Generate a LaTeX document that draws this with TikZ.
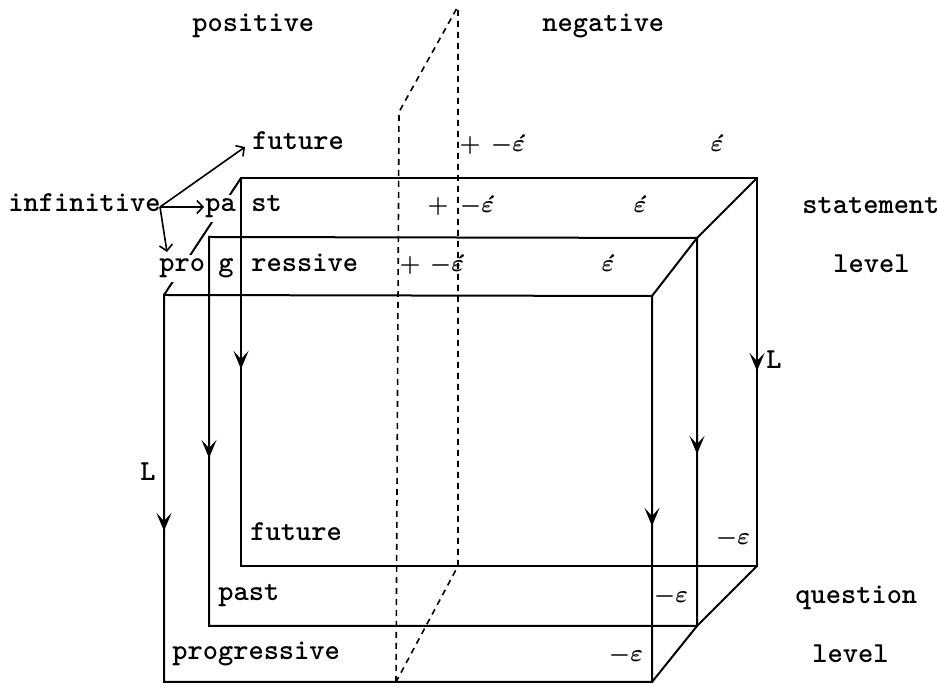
\documentclass[tikz,border=0pt]{standalone}
\usepackage{bm}
\usetikzlibrary{arrows.meta}
\begin{document}
\begin{tikzpicture}[x=0.5pt,y=-0.5pt,
  edge/.style={line width=1pt},
  plane/.style={line width=0.8pt, dash pattern=on 3pt off 2.5pt},
  lbl/.style={inner sep=0pt, anchor=base west, font=\fontsize{14.5}{17}\selectfont\ttfamily\bfseries},
  cover/.style={lbl, fill=white, inner ysep=2pt},
  sym/.style={inner sep=0pt, anchor=base, font=\fontsize{12}{14}\selectfont},
  midtip/.style={line width=1.3pt, -{Stealth[length=9pt,width=7.5pt,inset=4pt]}},
  opentip/.style={line width=0.8pt, -{Straight Barb[length=3pt,width=6.5pt]}},
]
\useasboundingbox (0,0) rectangle (938,688);

% corners of the three slabs
\coordinate (BTL) at (241,178); \coordinate (BTR) at (757,178);
\coordinate (BBR) at (757,566); \coordinate (BBL) at (241,566);
\coordinate (MTL) at (209,237); \coordinate (MTR) at (697,238);
\coordinate (MBR) at (697,626); \coordinate (MBL) at (209,626);
\coordinate (FTL) at (164,295); \coordinate (FTR) at (652,296);
\coordinate (FBR) at (652,682); \coordinate (FBL) at (164,682);

% dashed dividing plane
\coordinate (PBT) at (458,10); \coordinate (PBB) at (458,566);
\coordinate (PFT) at (399,112); \coordinate (PFB) at (396,682);
\coordinate (PTop) at (457,8);
\draw[plane] (PFB) -- (PFT) -- (PTop);
\draw[plane] (PBT) -- (PBB) -- (PFB);

% the three rectangles
\draw[edge] (BTL) -- (BTR) -- (BBR) -- (BBL) -- cycle;
\draw[edge] (MTL) -- (MTR) -- (MBR) -- (MBL) -- cycle;
\draw[edge] (FTL) -- (FTR) -- (FBR) -- (FBL) -- cycle;
% diagonals
\draw[edge] (FTL) -- (BTL);
\draw[edge] (FTR) -- (MTR) -- (BTR);
\draw[edge] (FBR) -- (MBR) -- (BBR);

% arrowheads on the vertical edges
\draw[midtip] (241,345) -- (241,369);
\draw[midtip] (209,434) -- (209,458);
\draw[midtip] (164,507) -- (164,531);
\draw[midtip] (757,347) -- (757,371);
\draw[midtip] (697,430) -- (697,454);
\draw[midtip] (652,502) -- (652,526);

% labels
\node[lbl] (pos) at (192,32) {positive};
\node[lbl] (neg) at (542,32) {negative};
\node[lbl] (fut) at (252,150) {future};
\node[lbl] (inf) at (8,212) {infinitive};
\node[cover] (pa) at (205,212) {pa};
\node[lbl] (st) at (251,212) {st};
\node[cover] (pro) at (159,272) {pro};
\node[lbl] (g) at (218,272) {g};
\node[lbl] (ress) at (251,272) {ressive};
\node[lbl] (stm) at (802,214) {statement};
\node[lbl] (lev1) at (833,273) {level};
\node[lbl] (futb) at (250,541) {future};
\node[lbl] (pastb) at (218,601) {past};
\node[lbl] (progb) at (172,660) {progressive};
\node[lbl] (que) at (795,604) {question};
\node[lbl] (lev2) at (812,663) {level};
\node[lbl, anchor=center] (L1) at (148,472) {L};
\node[lbl, anchor=center] (L2) at (774,360) {L};

% epsilon labels
\node[sym] (p1) at (470,152) {$\bm{+}$};
\node[sym] (m1) at (508,152) {$\bm{-\acute{\varepsilon}}$};
\node[sym] (e1) at (717,152) {$\bm{\acute{\varepsilon}}$};
\node[sym] (p2) at (438,213) {$\bm{+}$};
\node[sym] (m2) at (477,213) {$\bm{-\acute{\varepsilon}}$};
\node[sym] (e2) at (640,213) {$\bm{\acute{\varepsilon}}$};
\node[sym] (p3) at (410,272) {$\bm{+}$};
\node[sym] (m3) at (447,272) {$\bm{-\acute{\varepsilon}}$};
\node[sym] (e3) at (608,272) {$\bm{\acute{\varepsilon}}$};
\node[sym] (q1) at (733,545) {$\bm{-\varepsilon}$};
\node[sym] (q2) at (671,603) {$\bm{-\varepsilon}$};
\node[sym] (q3) at (626,662) {$\bm{-\varepsilon}$};

% arrows from infinitive
\coordinate (src) at (160,207);
\coordinate (tfut) at (245,147);
\coordinate (tpa) at (204,207);
\coordinate (tpro) at (167,252);
\draw[opentip] (src) -- (tfut);
\draw[opentip] (src) -- (tpa);
\draw[opentip] (src) -- (tpro);
\end{tikzpicture}
\end{document}
